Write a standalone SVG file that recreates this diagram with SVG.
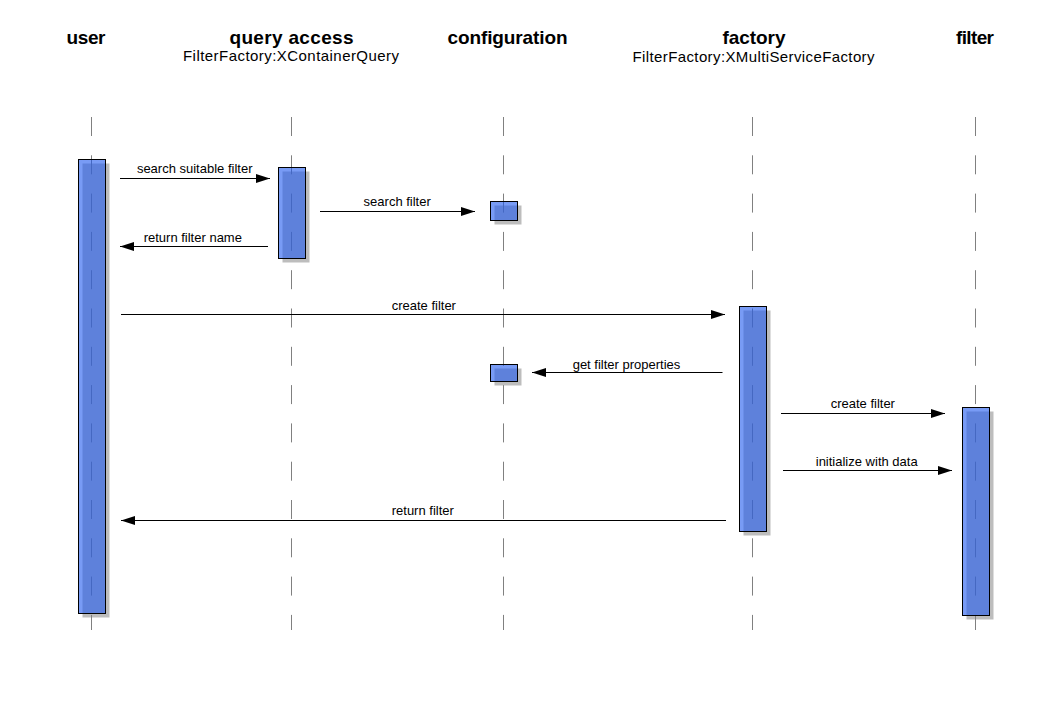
<svg xmlns="http://www.w3.org/2000/svg" width="1048" height="719" viewBox="0 0 1048 719">
<defs>
<style>
.hdr{font-family:"Liberation Sans",Arial,sans-serif;font-size:19px;font-weight:bold;fill:#000;text-anchor:middle}
.sub{font-family:"Liberation Sans",Arial,sans-serif;font-size:15px;fill:#000;text-anchor:middle}
.lbl{font-family:"Liberation Sans",Arial,sans-serif;font-size:13px;fill:#000;text-anchor:middle}
.life{stroke:#808080;stroke-width:1;stroke-dasharray:19 19.3;fill:none}
.shadow{fill:#bdbdbd;stroke:none}
.act{fill:#1e58ee;fill-opacity:0.6;stroke:#000;stroke-width:1}
.msg{stroke:#000;stroke-width:1;fill:none;marker-end:url(#ah)}
</style>
<marker id="ah" viewBox="0 0 14 9" refX="14" refY="4.5" markerWidth="14" markerHeight="9" orient="auto" markerUnits="userSpaceOnUse">
<path d="M0,0 L14,4.5 L0,9 Z" fill="#000"/>
</marker>
</defs>
<rect width="1048" height="719" fill="#fff"/>

<g id="user">
<rect class="shadow" x="82.5" y="163.5" width="27" height="454"/>
<line class="life" x1="91.5" y1="117" x2="91.5" y2="630"/>
<rect class="act" x="78.5" y="159.5" width="27" height="454"/>
<text class="hdr" x="86" y="44" textLength="39" lengthAdjust="spacing">user</text>
</g>

<g id="query-access">
<rect class="shadow" x="282.5" y="171.5" width="27" height="91"/>
<line class="life" x1="291.5" y1="117" x2="291.5" y2="630"/>
<rect class="act" x="278.5" y="167.5" width="27" height="91"/>
<text class="hdr" x="291.5" y="44" textLength="124" lengthAdjust="spacing">query access</text>
<text class="sub" x="291" y="61" textLength="216" lengthAdjust="spacing">FilterFactory:XContainerQuery</text>
</g>

<g id="configuration">
<rect class="shadow" x="494.5" y="205.5" width="27" height="19"/>
<rect class="shadow" x="494.5" y="368.5" width="27" height="17"/>
<line class="life" x1="503.5" y1="117" x2="503.5" y2="630"/>
<rect class="act" x="490.5" y="201.5" width="27" height="19"/>
<rect class="act" x="490.5" y="364.5" width="27" height="17"/>
<text class="hdr" x="507.5" y="44" textLength="120" lengthAdjust="spacing">configuration</text>
</g>

<g id="factory">
<rect class="shadow" x="743.5" y="310.5" width="27" height="225"/>
<line class="life" x1="752.5" y1="117" x2="752.5" y2="630"/>
<rect class="act" x="739.5" y="306.5" width="27" height="225"/>
<text class="hdr" x="754" y="44" textLength="63" lengthAdjust="spacing">factory</text>
<text class="sub" x="753.5" y="62" textLength="242" lengthAdjust="spacing">FilterFactory:XMultiServiceFactory</text>
</g>

<g id="filter">
<rect class="shadow" x="966.5" y="411.5" width="27" height="208"/>
<line class="life" x1="975.5" y1="117" x2="975.5" y2="630"/>
<rect class="act" x="962.5" y="407.5" width="27" height="208"/>
<text class="hdr" x="975" y="44" textLength="38" lengthAdjust="spacing">filter</text>
</g>

<g id="connectors">
<line class="msg" x1="120" y1="178.5" x2="270" y2="178.5"/>
<text class="lbl" x="194.7" y="173">search suitable filter</text>

<line class="msg" x1="320" y1="211.5" x2="475" y2="211.5"/>
<text class="lbl" x="397.2" y="206">search filter</text>

<line class="msg" x1="268" y1="246.5" x2="120" y2="246.5"/>
<text class="lbl" x="192.8" y="241.5">return filter name</text>

<line class="msg" x1="121" y1="314.5" x2="725" y2="314.5"/>
<text class="lbl" x="423.8" y="309.5">create filter</text>

<line class="msg" x1="722.5" y1="372.5" x2="532" y2="372.5"/>
<text class="lbl" x="626.5" y="368.5">get filter properties</text>

<line class="msg" x1="781" y1="413.5" x2="945" y2="413.5"/>
<text class="lbl" x="862.8" y="408">create filter</text>

<line class="msg" x1="783" y1="470.5" x2="952" y2="470.5"/>
<text class="lbl" x="866.7" y="466">initialize with data</text>

<line class="msg" x1="726" y1="520.5" x2="121" y2="520.5"/>
<text class="lbl" x="422.8" y="515">return filter</text>
</g>
</svg>
